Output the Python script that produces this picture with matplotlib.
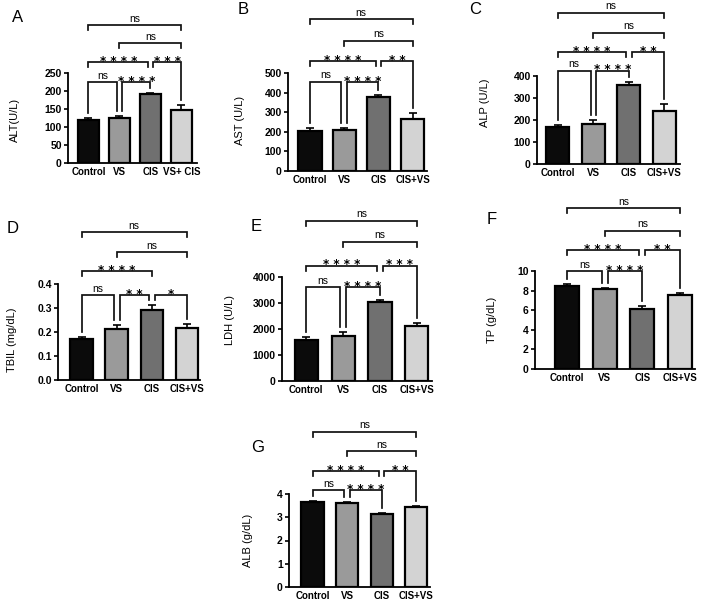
import matplotlib
matplotlib.use('Agg')
import matplotlib.pyplot as plt
import numpy as np

W, H = 708, 603
plt.rcParams['font.family'] = ['Liberation Sans', 'DejaVu Sans']

# ---------------- data ----------------
groups = ["Control", "VS", "CIS", "CIS+VS"]
groups_A = ["Control", "VS", "CIS", "VS+ CIS"]

alt_mean = [120, 126, 193, 148]
alt_err = [4, 5, 2, 12]
ast_mean = [205, 207, 380, 265]
ast_err = [12, 12, 10, 30]
alp_mean = [167, 180, 360, 243]
alp_err = [12, 18, 15, 28]
tbil_mean = [0.170, 0.213, 0.293, 0.218]
tbil_err = [0.008, 0.015, 0.018, 0.015]
ldh_mean = [1580, 1720, 3040, 2100]
ldh_err = [120, 170, 70, 150]
tp_mean = [8.5, 8.15, 6.1, 7.6]
tp_err = [0.2, 0.1, 0.35, 0.2]
alb_mean = [3.66, 3.62, 3.12, 3.45]
alb_err = [0.03, 0.03, 0.07, 0.03]

comparisons = [(0, 1), (1, 2), (0, 2), (2, 3), (1, 3), (0, 3)]
sig_A = ['ns', '****', '****', '***', 'ns', 'ns']
sig_B = ['ns', '****', '****', '**', 'ns', 'ns']
sig_C = ['ns', '****', '****', '**', 'ns', 'ns']
sig_D = ['ns', '**', '****', '*', 'ns', 'ns']
sig_E = ['ns', '****', '****', '***', 'ns', 'ns']
sig_F = ['ns', '****', '****', '**', 'ns', 'ns']
sig_G = ['ns', '****', '****', '**', 'ns', 'ns']

ylabels = ["ALT(U/L)", "AST (U/L)", "ALP (U/L)", "TBIL (mg/dL)",
           "LDH (U/L)", "TP (g/dL)", "ALB (g/dL)"]
panel_letters = ["A", "B", "C", "D", "E", "F", "G"]

# ---------------- style / layout ----------------
colors = ['#0b0b0b', '#9a9a9a', '#707070', '#d3d3d3']
levels_std = [0, 0, 1, 1, 2, 3]
levels_D = [0, 0, 1, 0, 2, 3]

panels = [
    dict(box=(68, 73, 197, 163), ymax=250, step=50, xlim=(-0.66, 3.5), bw=0.68,
         lv=[0.90, 1.12, 1.33, 1.53], ylab=(15, 120), let=(18, 18)),
    dict(box=(288, 73, 427, 171), ymax=500, step=100, xlim=(-0.64, 3.42), bw=0.68,
         lv=[0.91, 1.12, 1.33, 1.55], ylab=(240, 120), let=(243, 9)),
    dict(box=(537, 76, 680, 164), ymax=400, step=100, xlim=(-0.59, 3.44), bw=0.65,
         lv=[1.06, 1.27, 1.49, 1.72], ylab=(485, 103), let=(475, 9)),
    dict(box=(58, 284, 200, 380), ymax=0.4, step=0.1, xlim=(-0.67, 3.37), bw=0.64,
         lv=[0.885, 1.135, 1.33, 1.54], ylab=(12, 340), let=(13, 228)),
    dict(box=(282, 277, 432, 381), ymax=4000, step=1000, xlim=(-0.66, 3.41), bw=0.63,
         lv=[0.90, 1.11, 1.34, 1.54], ylab=(230, 320), let=(256, 227)),
    dict(box=(535, 271, 695, 369), ymax=10, step=2, xlim=(-0.85, 3.4), bw=0.64,
         lv=[1.0, 1.21, 1.41, 1.64], ylab=(492, 320), let=(492, 220)),
    dict(box=(289, 494, 430, 587), ymax=4, step=1, xlim=(-0.68, 3.4), bw=0.64,
         lv=[1.04, 1.25, 1.46, 1.67], ylab=(248, 540), let=(258, 447)),
]

datasets = [
    (alt_mean, alt_err, groups_A, sig_A, levels_std),
    (ast_mean, ast_err, groups, sig_B, levels_std),
    (alp_mean, alp_err, groups, sig_C, levels_std),
    (tbil_mean, tbil_err, groups, sig_D, levels_D),
    (ldh_mean, ldh_err, groups, sig_E, levels_std),
    (tp_mean, tp_err, groups, sig_F, levels_std),
    (alb_mean, alb_err, groups, sig_G, levels_std),
]

fig = plt.figure(figsize=(W / 100, H / 100), dpi=100)
fig.patch.set_facecolor('white')


def draw_panel(spec, means, errs, labels, sigs, levels, ylabel, letter):
    l, t, r, b = spec['box']
    ax = fig.add_axes([l / W, 1 - b / H, (r - l) / W, (b - t) / H])
    x = np.arange(len(means))
    means = np.asarray(means, dtype=float)
    errs = np.asarray(errs, dtype=float)
    ax.errorbar(x, means, yerr=[np.zeros_like(errs), errs], fmt='none',
                ecolor='black', elinewidth=1.2, capsize=3, capthick=1.2, zorder=3)
    ax.bar(x, means, width=spec['bw'], color=colors, edgecolor='black',
           linewidth=1.6, zorder=2)
    ymax = spec['ymax']
    ax.set_ylim(0, ymax)
    ax.set_xlim(*spec['xlim'])
    ax.set_yticks(np.arange(0, ymax + spec['step'] / 2, spec['step']))
    if spec['step'] < 1:
        ax.set_yticklabels([f"{v:.1f}" for v in ax.get_yticks()])
    else:
        ax.set_yticklabels([f"{int(round(v))}" for v in ax.get_yticks()])
    ax.set_xticks(x)
    ax.set_xticklabels(labels, fontsize=7, fontweight='bold')
    for s in ['top', 'right']:
        ax.spines[s].set_visible(False)
    for s in ['left', 'bottom']:
        ax.spines[s].set_linewidth(1.3)
    ax.tick_params(axis='y', length=3, width=1.2, labelsize=7.5, pad=1.5)
    ax.tick_params(axis='x', length=0, pad=3)
    for tl in ax.get_yticklabels():
        tl.set_fontweight('bold')

    px = ymax / (b - t)
    tops = means + errs
    for k, (i, j) in enumerate(comparisons):
        L = levels[k]
        y = spec['lv'][L] * ymax
        xi, xj = float(i), float(j)
        if any(levels[m] == L and comparisons[m][1] == i for m in range(len(comparisons)) if m != k):
            xi += 0.08
        if any(levels[m] == L and comparisons[m][0] == j for m in range(len(comparisons)) if m != k):
            xj -= 0.08

        def leg_bottom(c):
            lower = any(levels[m] < L and c in comparisons[m] for m in range(len(comparisons)))
            if lower:
                return y - 5 * px
            return tops[c] + 5 * px

        ax.plot([xi, xi, xj, xj], [leg_bottom(i), y, y, leg_bottom(j)],
                color='#111111', lw=1.25, clip_on=False, solid_joinstyle='miter',
                zorder=4)
        s = sigs[k]
        if s == 'ns':
            ax.annotate(s, ((xi + xj) / 2, y), xytext=(0, 2.5),
                        textcoords='offset points', ha='center', va='baseline',
                        fontsize=7.5, annotation_clip=False)
        else:
            ax.annotate(' '.join(s), ((xi + xj) / 2, y), xytext=(0, -2.0),
                        textcoords='offset points', ha='center', va='baseline',
                        fontsize=8.5, family='DejaVu Sans', fontweight='bold',
                        annotation_clip=False)

    fig.text(spec['ylab'][0] / W, 1 - spec['ylab'][1] / H, ylabel, rotation=90,
             ha='center', va='center', fontsize=8)
    fig.text(spec['let'][0] / W, 1 - spec['let'][1] / H, letter,
             ha='center', va='center', fontsize=12)


for spec, (m, e, labs, sg, lvls), yl, lt in zip(panels, datasets, ylabels, panel_letters):
    draw_panel(spec, m, e, labs, sg, lvls, yl, lt)

fig.savefig('out.png', dpi=100)
